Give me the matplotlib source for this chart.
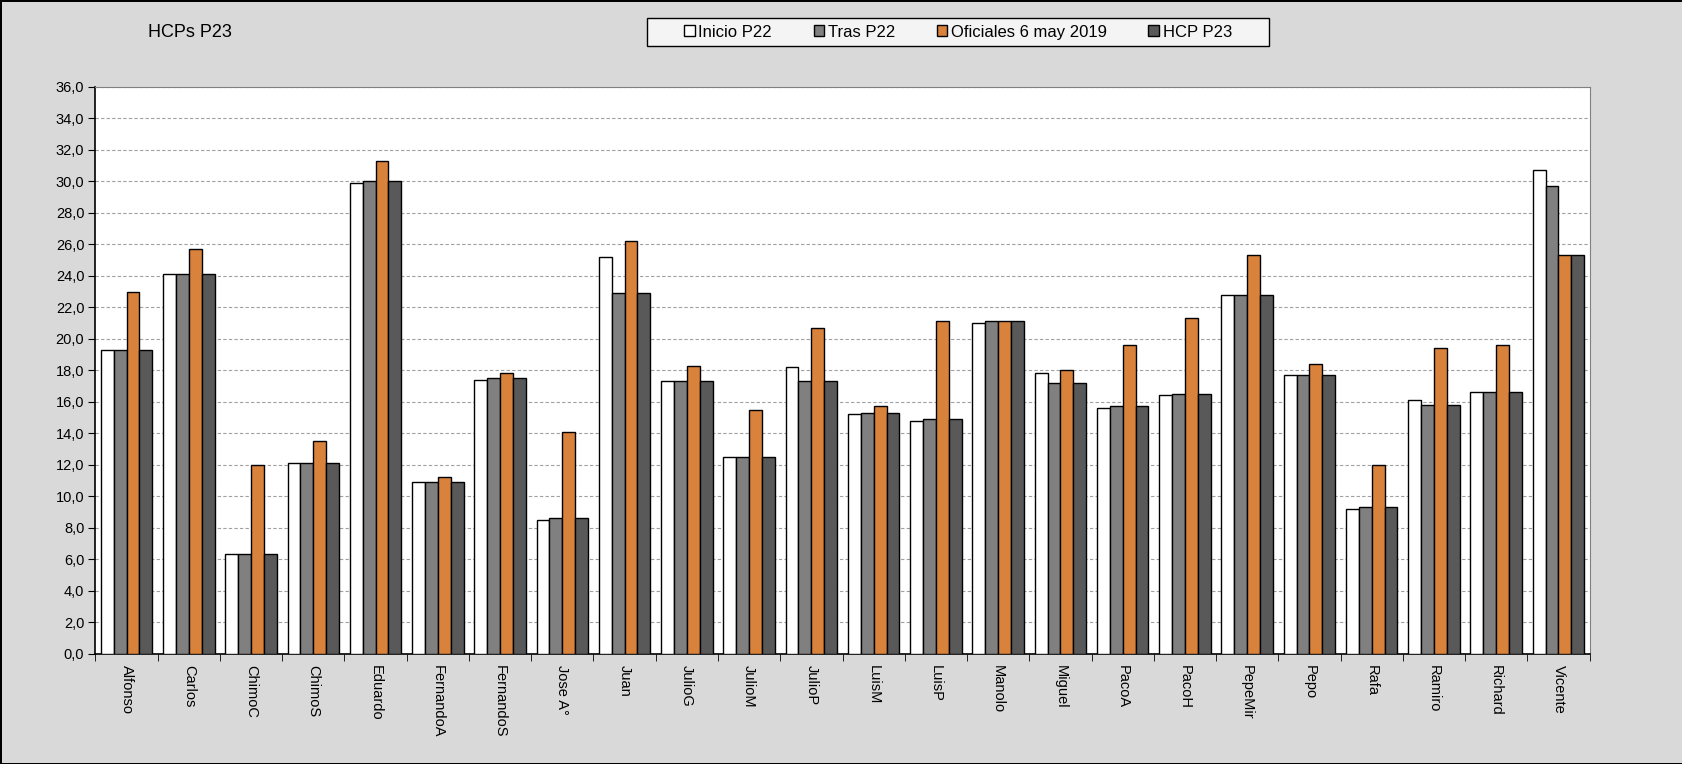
import numpy as np
import matplotlib
matplotlib.use("Agg")
import matplotlib.pyplot as plt
from matplotlib.patches import Rectangle
from matplotlib.ticker import FuncFormatter, FixedLocator

plt.rcParams['font.family'] = ['Liberation Sans', 'DejaVu Sans']

names = ["Alfonso", "Carlos", "ChimoC", "ChimoS", "Eduardo", "FernandoA", "FernandoS",
         "Jose A°", "Juan", "JulioG", "JulioM", "JulioP", "LuisM", "LuisP", "Manolo",
         "Miguel", "PacoA", "PacoH", "PepeMir", "Pepo", "Rafa", "Ramiro", "Richard", "Vicente"]

inicio_p22 = [19.3, 24.1, 6.3, 12.1, 29.9, 10.9, 17.4, 8.5, 25.2, 17.3, 12.5, 18.2, 15.2, 14.8,
              21.0, 17.8, 15.6, 16.4, 22.8, 17.7, 9.2, 16.1, 16.6, 30.7]
tras_p22 = [19.3, 24.1, 6.3, 12.1, 30.0, 10.9, 17.5, 8.6, 22.9, 17.3, 12.5, 17.3, 15.3, 14.9,
            21.1, 17.2, 15.7, 16.5, 22.8, 17.7, 9.3, 15.8, 16.6, 29.7]
oficiales = [23.0, 25.7, 12.0, 13.5, 31.3, 11.2, 17.8, 14.1, 26.2, 18.3, 15.5, 20.7, 15.7, 21.1,
             21.1, 18.0, 19.6, 21.3, 25.3, 18.4, 12.0, 19.4, 19.6, 25.3]
hcp_p23 = [19.3, 24.1, 6.3, 12.1, 30.0, 10.9, 17.5, 8.6, 22.9, 17.3, 12.5, 17.3, 15.3, 14.9,
           21.1, 17.2, 15.7, 16.5, 22.8, 17.7, 9.3, 15.8, 16.6, 25.3]

series = [("Inicio P22", inicio_p22, "#ffffff"),
          ("Tras P22", tras_p22, "#808080"),
          ("Oficiales 6 may 2019", oficiales, "#d9823b"),
          ("HCP P23", hcp_p23, "#595959")]

fig = plt.figure(figsize=(16.83, 7.64), dpi=100)
fig.patch.set_facecolor("#d9d9d9")
fig.patch.set_edgecolor("black")
fig.patch.set_linewidth(2)

ax = fig.add_axes([0.0567, 0.1445, 0.8878, 0.7418])
ax.set_facecolor("white")

x = np.arange(len(names))
w = 0.207
for i, (label, vals, color) in enumerate(series):
    ax.bar(x + (i - 1.5) * w, vals, width=w, color=color, edgecolor="black",
           linewidth=1.0, label=label, zorder=3)

ax.set_xlim(-0.5, len(names) - 0.5)
ax.set_ylim(0, 36)
ax.set_yticks(np.arange(0, 37, 2))
ax.yaxis.set_major_formatter(FuncFormatter(lambda v, p: f"{v:.1f}".replace(".", ",")))
ax.yaxis.grid(True, linestyle=(0, (3, 2)), color="#a0a0a0", linewidth=0.8, zorder=0)

ax.set_xticks(x)
ax.set_xticklabels(names, rotation=-90, fontsize=10.5)
ax.tick_params(axis="x", which="major", length=0, pad=8)
ax.xaxis.set_minor_locator(FixedLocator(np.arange(-0.5, len(names), 1)))
ax.tick_params(axis="x", which="minor", length=5, direction="out", color="black")
ax.tick_params(axis="y", length=5, direction="out", labelsize=10.5, pad=3)

for side in ("top", "right"):
    ax.spines[side].set_color("#808080")
for side in ("left", "bottom"):
    ax.spines[side].set_color("black")
    ax.spines[side].set_linewidth(1.2)

fig.text(0.088, 0.957, "HCPs P23", fontsize=13, ha="left", va="center")

# legend box drawn separately so it can be wider than its content
fig.patches.append(Rectangle((0.3844, 0.9398), 0.3696, 0.0366, transform=fig.transFigure,
                             facecolor="#f4f4f4", edgecolor="black", linewidth=1.0, zorder=1))
leg = fig.legend(loc="center", bbox_to_anchor=(0.5692, 0.958), ncol=4, frameon=False,
                 fontsize=12, handlelength=0.65, handleheight=0.65, handletextpad=0.2,
                 columnspacing=2.5, borderpad=0.3, borderaxespad=0)
leg.set_zorder(5)

fig.savefig("out.png", dpi=100, facecolor=fig.get_facecolor(), edgecolor=fig.get_edgecolor())
